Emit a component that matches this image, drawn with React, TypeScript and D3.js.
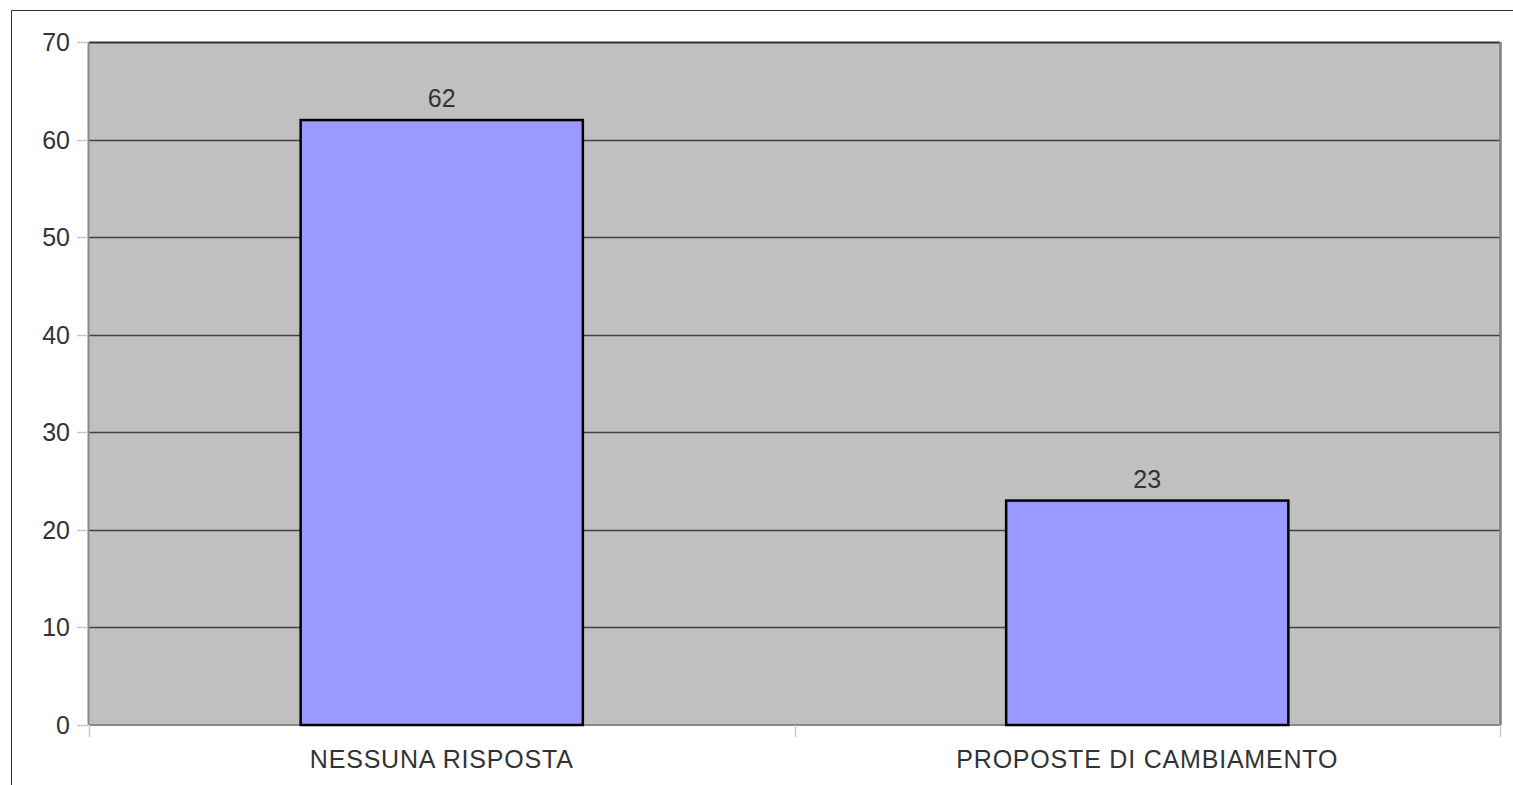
import React, { useEffect, useRef } from "react";
import * as d3 from "d3";

const categories = ["NESSUNA RISPOSTA", "PROPOSTE DI CAMBIAMENTO"];
const values = [62, 23];
const yTicks = [0, 10, 20, 30, 40, 50, 60, 70];

const W = 1513;
const H = 785;

const App: React.FC = () => {
  const svgRef = useRef<SVGSVGElement | null>(null);

  useEffect(() => {
    if (!svgRef.current) return;
    const svg = d3.select(svgRef.current);
    svg.selectAll("*").remove();

    const plot = { left: 89, top: 42, right: 1500, bottom: 725 };
    const font = "'Liberation Sans', Arial, sans-serif";

    // outer frame (only top and left edges visible)
    svg
      .append("path")
      .attr("d", `M11.5,${H} L11.5,10.5 L${W},10.5`)
      .attr("fill", "none")
      .attr("stroke", "#333");

    const x = d3
      .scaleBand<string>()
      .domain(categories)
      .range([plot.left, plot.right])
      .paddingInner(0)
      .paddingOuter(0);

    const y = d3
      .scaleLinear()
      .domain([0, 70])
      .range([plot.bottom, plot.top]);

    // plot background
    svg
      .append("rect")
      .attr("x", plot.left)
      .attr("y", plot.top)
      .attr("width", plot.right - plot.left)
      .attr("height", plot.bottom - plot.top)
      .attr("fill", "#c0c0c0");

    // gridlines
    svg
      .append("g")
      .selectAll("line")
      .data(yTicks.filter((t) => t > 0))
      .join("line")
      .attr("x1", plot.left)
      .attr("x2", plot.right)
      .attr("y1", (d) => Math.round(y(d)) + 0.5)
      .attr("y2", (d) => Math.round(y(d)) + 0.5)
      .attr("stroke", (d) => (d === 70 ? "#333" : "#404040"))
      .attr("stroke-width", (d) => (d === 70 ? 2 : 1.5));

    // plot borders
    svg
      .append("line")
      .attr("x1", plot.left - 0.5)
      .attr("x2", plot.left - 0.5)
      .attr("y1", plot.top)
      .attr("y2", plot.bottom)
      .attr("stroke", "#8a8a8a")
      .attr("stroke-width", 2);
    svg
      .append("line")
      .attr("x1", plot.right + 0.5)
      .attr("x2", plot.right + 0.5)
      .attr("y1", plot.top)
      .attr("y2", plot.bottom)
      .attr("stroke", "#808080")
      .attr("stroke-width", 2.5);
    svg
      .append("line")
      .attr("x1", plot.left)
      .attr("x2", plot.right)
      .attr("y1", plot.bottom)
      .attr("y2", plot.bottom)
      .attr("stroke", "#8a8a8a")
      .attr("stroke-width", 2);

    // y axis ticks + labels
    const yAxis = svg.append("g");
    yAxis
      .selectAll("line")
      .data(yTicks)
      .join("line")
      .attr("x1", plot.left - 12)
      .attr("x2", plot.left - 1)
      .attr("y1", (d) => Math.round(y(d)) + 0.5)
      .attr("y2", (d) => Math.round(y(d)) + 0.5)
      .attr("stroke", "#c8c8c8")
      .attr("stroke-width", 1.5);
    yAxis
      .selectAll("text")
      .data(yTicks)
      .join("text")
      .attr("x", 70)
      .attr("y", (d) => y(d))
      .attr("dy", "0.36em")
      .attr("text-anchor", "end")
      .attr("font-family", font)
      .attr("font-size", 25)
      .attr("fill", "#333")
      .text((d) => d);

    // x axis ticks at band edges
    const edges = [plot.left, plot.left + x.bandwidth(), plot.right];
    svg
      .append("g")
      .selectAll("line")
      .data(edges)
      .join("line")
      .attr("x1", (d) => Math.round(d) + 0.5)
      .attr("x2", (d) => Math.round(d) + 0.5)
      .attr("y1", plot.bottom)
      .attr("y2", plot.bottom + 12)
      .attr("stroke", "#c8c8c8")
      .attr("stroke-width", 1.5);

    svg
      .append("g")
      .selectAll("text")
      .data(categories)
      .join("text")
      .attr("x", (d) => x(d)! + x.bandwidth() / 2)
      .attr("y", 768)
      .attr("text-anchor", "middle")
      .attr("font-family", font)
      .attr("font-size", 25)
      .attr("letter-spacing", 0.8)
      .attr("fill", "#333")
      .text((d) => d);

    // bars
    const barW = x.bandwidth() * 0.4;
    const bars = svg.append("g");
    bars
      .selectAll("rect")
      .data(categories)
      .join("rect")
      .attr("x", (d) => x(d)! + (x.bandwidth() - barW) / 2)
      .attr("y", (_, i) => y(values[i]))
      .attr("width", barW)
      .attr("height", (_, i) => plot.bottom - y(values[i]))
      .attr("fill", "#9999ff")
      .attr("stroke", "#000")
      .attr("stroke-width", 2.5);

    // value labels
    svg
      .append("g")
      .selectAll("text")
      .data(categories)
      .join("text")
      .attr("x", (d) => x(d)! + x.bandwidth() / 2)
      .attr("y", (_, i) => y(values[i]) - 13)
      .attr("text-anchor", "middle")
      .attr("font-family", font)
      .attr("font-size", 25)
      .attr("fill", "#333")
      .text((_, i) => values[i]);
  }, []);

  return (
    <svg
      ref={svgRef}
      width={W}
      height={H}
      style={{ position: "absolute", left: 0, top: 0, background: "#fff" }}
    ></svg>
  );
};

export default App;
